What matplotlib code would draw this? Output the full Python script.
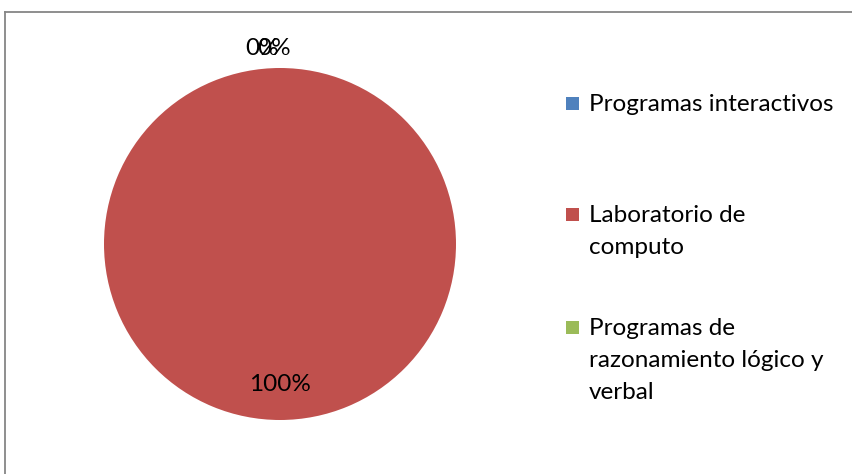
import numpy as np
import matplotlib
matplotlib.use("Agg")
import matplotlib.pyplot as plt
from matplotlib.lines import Line2D
from matplotlib.patches import Rectangle

plt.rcParams['font.family'] = ['Lato', 'DejaVu Sans']

# Data
categories = ["Programas interactivos",
              "Laboratorio de\ncomputo",
              "Programas de\nrazonamiento lógico y\nverbal"]
values = [0, 100, 0]
colors = ["#4F81BD", "#C0504D", "#9BBB59"]

W, H = 852, 474
fs = 17.5
fig = plt.figure(figsize=(W / 100, H / 100), dpi=100)

# pie axes: centre (280, 244) px from top, radius 176 px
cx, cy, r = 280, H - 244, 176
ax = fig.add_axes([(cx - r) / W, (cy - r) / H, 2 * r / W, 2 * r / H])
wedges, _ = ax.pie(values, colors=colors, startangle=90, counterclock=False,
                   radius=1, wedgeprops=dict(linewidth=0))
ax.set_xlim(-1, 1)
ax.set_ylim(-1, 1)
ax.set_aspect('equal')
ax.axis('off')

# percentage labels (the two zero slices sit on top of each other, like the original)
total = sum(values)
offsets = [-0.10, 0, -0.035]
for i, (w, v) in enumerate(zip(wedges, values)):
    pct = "%d%%" % round(100 * v / total)
    ang = np.deg2rad((w.theta1 + w.theta2) / 2)
    if v > 0:
        x, y = 0.8 * np.cos(ang), 0.8 * np.sin(ang)
    else:
        x, y = 1.11 * np.cos(ang) + offsets[i], 1.11 * np.sin(ang)
    ax.text(x, y, pct, ha='center', va='center', fontsize=fs, color='black',
            clip_on=False)

# legend drawn by hand so spacing matches
leg_y = [103, 214, 327]
for lab, col, y in zip(categories, colors, leg_y):
    fig.patches.append(Rectangle((566 / W, (H - y - 6.5) / H), 13 / W, 13 / H,
                                 transform=fig.transFigure, facecolor=col,
                                 edgecolor='none'))
    fig.text(589 / W, (H - y + 9) / H, lab, ha='left', va='top', fontsize=fs,
             linespacing=1.66, transform=fig.transFigure)

# chart border (only top and left visible)
bc = "#868686"
fig.add_artist(Line2D([5 / W, 5 / W], [0, (H - 12) / H], color=bc, lw=1.3,
                      transform=fig.transFigure))
fig.add_artist(Line2D([5 / W, 1], [(H - 12) / H, (H - 12) / H], color=bc, lw=1.3,
                      transform=fig.transFigure))

fig.savefig("out.png", dpi=100)
